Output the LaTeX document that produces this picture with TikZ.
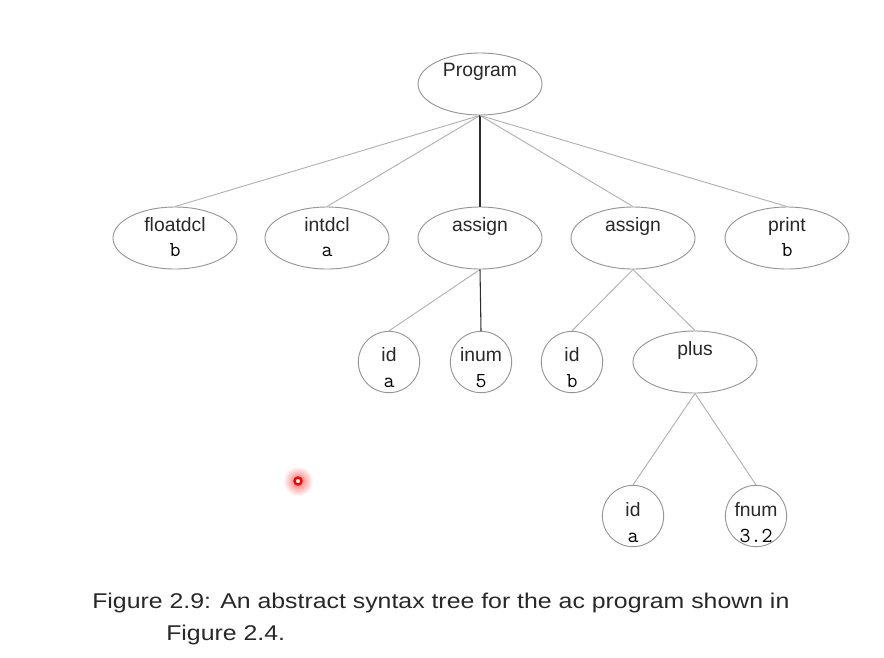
\documentclass[tikz,border=0pt]{standalone}
\usepackage{fontspec}
\setmainfont{Liberation Sans}
\newfontfamily\capfont[FakeStretch=1.165]{Liberation Sans}
\usetikzlibrary{shapes.geometric}
\definecolor{rim}{RGB}{150,150,150}
\definecolor{twig}{RGB}{178,178,178}
\definecolor{trunk}{RGB}{45,45,45}
\definecolor{ink}{RGB}{40,40,40}
\tikzset{
    oval/.style={
           ellipse,
           draw=rim, line width=0.7pt,
           minimum width=93pt, minimum height=46.5pt,
           inner sep=0pt,
           },
}
\tikzset{
    leaf/.style={
           circle,
           draw=rim, line width=0.7pt,
           minimum size=46pt,
           inner sep=0pt,
           },
}
\tikzset{
    tag/.style={
           anchor=base,
           inner sep=0pt,
           text=ink,
           font=\fontsize{14.5}{17}\selectfont,
           },
}
\tikzset{
    val/.style={
           anchor=base,
           inner sep=0pt,
           text=black,
           font=\ttfamily\fontsize{16}{18}\selectfont,
           },
}
\tikzset{
    figcap/.style={
           anchor=base west,
           inner sep=0pt,
           text=ink,
           font=\capfont\fontsize{16}{19}\selectfont,
           },
}

\begin{document}
\begin{tikzpicture}[x=0.75pt,y=-0.75pt]
\useasboundingbox[fill=white] (0,0) rectangle (884,657);
% tree nodes
\node[oval](prog) at (480,84){};
\node[oval](fdcl) at (175,238){};
\node[oval](idcl) at (327,238){};
\node[oval](asgA) at (480,238){};
\node[oval](asgB) at (633,238){};
\node[oval](prnt) at (787,238){};
\node[leaf](idA) at (389,362){};
\node[leaf](inum) at (481,362){};
\node[leaf](idB) at (572,362){};
\node[oval](plus) at (695,362){};
\node[leaf](idC) at (633,516){};
\node[leaf](fnum) at (756,516){};
% texts
\node[tag](progt) at (480,76){Program};
\node[tag](fdclt) at (175,231){floatdcl};
\node[val](fdclv) at (175,256){b};
\node[tag](idclt) at (327,231){intdcl};
\node[val](idclv) at (327,256){a};
\node[tag](asgAt) at (480,231){assign};
\node[tag](asgBt) at (633,231){assign};
\node[tag](prntt) at (787,231){print};
\node[val](prntv) at (787,256){b};
\node[tag](idAt) at (389,361){id};
\node[val](idAv) at (389,387){a};
\node[tag](inumt) at (481,361){inum};
\node[val](inumv) at (481,387){5};
\node[tag](idBt) at (572,361){id};
\node[val](idBv) at (572,387){b};
\node[tag](plust) at (695,355){plus};
\node[tag](idCt) at (633,516){id};
\node[val](idCv) at (633,542){a};
\node[tag](fnumt) at (756,516){fnum};
\node[val](fnumv) at (756,542){3.2};
% edges
\path (prog.south) edge[twig,line width=0.7pt] (fdcl.north);
\path (prog.south) edge[twig,line width=0.7pt] (idcl.north);
\path (prog.south) edge[trunk,line width=0.8pt] (asgA.north);
\path (prog.south) edge[twig,line width=0.7pt] (asgB.north);
\path (prog.south) edge[twig,line width=0.7pt] (prnt.north);
\path (asgA.south) edge[twig,line width=0.7pt] (idA.north);
\path (asgA.south) edge[trunk,line width=0.8pt] (inum.north);
\path (asgB.south) edge[twig,line width=0.7pt] (idB.north);
\path (asgB.south) edge[twig,line width=0.7pt] (plus.north);
\path (plus.south) edge[twig,line width=0.7pt] (idC.north);
\path (plus.south) edge[twig,line width=0.7pt] (fnum.north);
% pointer mark
\shade[inner color=red!60,outer color=white] (298,481) circle (15);
\draw[red,line width=1.8pt,fill=white] (298,481) circle (3.5);
% caption
\node[figcap](capA) at (92,608){Figure 2.9: An abstract syntax tree for the ac program shown in};
\node[figcap](capB) at (166,640){Figure 2.4.};
\end{tikzpicture}
\end{document}
